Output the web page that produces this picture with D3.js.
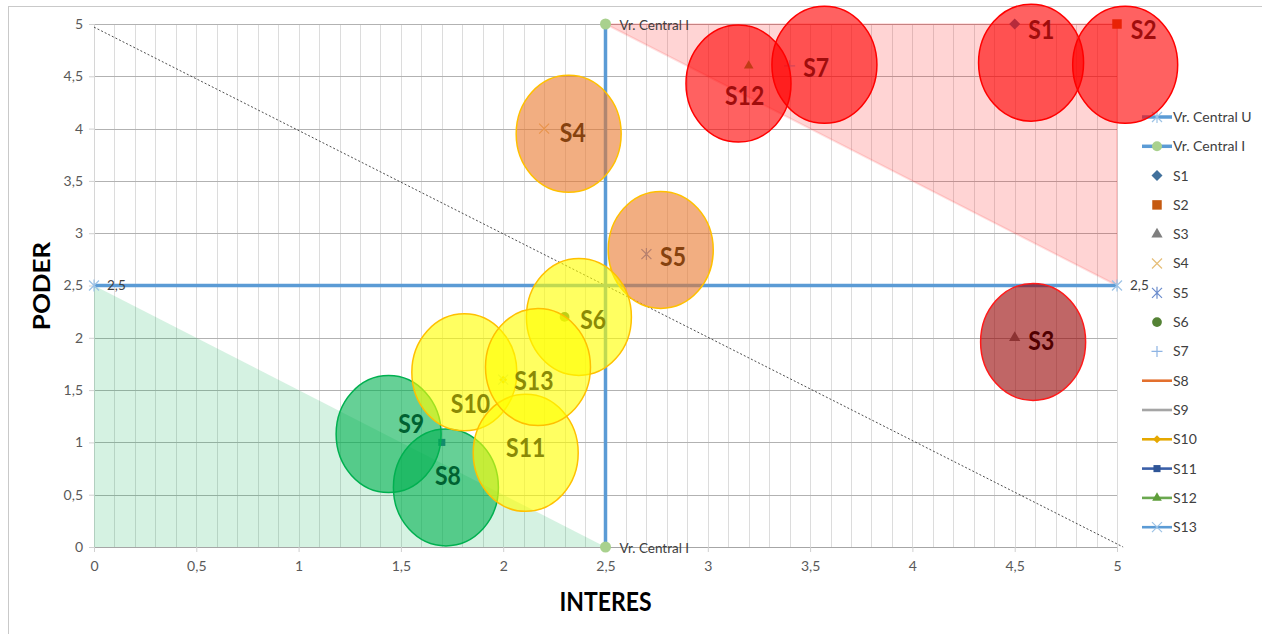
<!DOCTYPE html>
<html>
<head>
<meta charset="utf-8">
<script src="https://cdn.jsdelivr.net/npm/d3@7"></script>
<style>
  html, body { margin: 0; padding: 0; background: #ffffff; }
  svg { display: block; font-family: Lato, "Open Sans", "DejaVu Sans", sans-serif; }
</style>
</head>
<body>
<svg id="chart" width="1262" height="634"></svg>
<script>
// ---- Datos ----
const seriesNames   = ["S1", "S2", "S3", "S4", "S5", "S6", "S7", "S8", "S9", "S10", "S11", "S12", "S13"];
// Punto de cada stakeholder (interés, poder)
const pointInteres  = [4.5, 5.0, 4.5, 2.2, 2.7, 2.3, 3.4, 1.7, 1.4, 2.0, 1.7, 3.2, 2.0];
const pointPoder    = [5.0, 5.0, 2.0, 4.0, 2.8, 2.2, 4.6, 0.6, 1.1, 1.6, 1.0, 4.6, 1.6];
// Centro de cada burbuja
const bubbleInteres = [4.58, 5.04, 4.59, 2.32, 2.77, 2.37, 3.57, 1.72, 1.44, 1.81, 2.11, 3.15, 2.17];
const bubblePoder   = [4.63, 4.61, 1.96, 3.95, 2.84, 2.20, 4.61, 0.57, 1.08, 1.67, 0.90, 4.43, 1.72];
// Posición del rótulo de cada burbuja
const labelInteres  = [4.63, 5.13, 4.63, 2.34, 2.83, 2.44, 3.53, 1.73, 1.55, 1.84, 2.11, 3.18, 2.15];
const labelPoder    = [4.95, 4.95, 1.98, 3.97, 2.78, 2.18, 4.59, 0.69, 1.18, 1.37, 0.95, 4.32, 1.59];
// Cuadrante de cada stakeholder
const bubbleGroup   = ["alto", "alto", "critico", "medio", "medio", "bajo", "alto",
                       "minimo", "minimo", "bajo", "bajo", "alto", "bajo"];

const axisTicks     = [0, 0.5, 1, 1.5, 2, 2.5, 3, 3.5, 4, 4.5, 5];
const minorTicks    = d3.range(0, 51).map(i => i / 10);

// Valores centrales
const centralUInteres = [0, 5];
const centralUPoder   = [2.5, 2.5];
const centralIInteres = [2.5, 2.5];
const centralIPoder   = [5, 0];

// Zonas sombreadas
const zonaAltaInteres = [2.5, 5, 5];
const zonaAltaPoder   = [5, 5, 2.5];
const zonaBajaInteres = [0, 0, 2.5];
const zonaBajaPoder   = [2.5, 0, 0];

// Diagonal punteada
const diagonalInteres = [0, 5.03];
const diagonalPoder   = [4.97, 0];

const legendNames = ["Vr. Central U", "Vr. Central I"].concat(seriesNames);

// ---- Estilos ----
const bubbleStyle = {
  alto:    { fill: "rgba(255,0,0,0.62)",    stroke: "#ff0000", text: "#a00d0d" },
  critico: { fill: "rgba(150,0,0,0.6)",     stroke: "#ff1a1a", text: "#500000" },
  medio:   { fill: "rgba(234,120,45,0.6)",  stroke: "#ffc000", text: "#86420f" },
  bajo:    { fill: "rgba(255,255,0,0.62)",  stroke: "#ffc000", text: "#8a8a06" },
  minimo:  { fill: "rgba(0,176,80,0.6)",    stroke: "#00b050", text: "#006232" }
};
const bubbleRx = 52.5, bubbleRy = 58.5;

const markerStyle = {
  S1:  { shape: "diamond",  color: "#41719c", line: null },
  S2:  { shape: "square",   color: "#c55a11", line: null },
  S3:  { shape: "triangle", color: "#7f7f7f", line: null },
  S4:  { shape: "times",    color: "#e6be78", line: null },
  S5:  { shape: "star",     color: "#6b8ccc", line: null },
  S6:  { shape: "circle",   color: "#548235", line: null },
  S7:  { shape: "plus",     color: "#8eb4e3", line: null },
  S8:  { shape: null,       color: null,      line: "#e3702e" },
  S9:  { shape: null,       color: null,      line: "#a5a5a5" },
  S10: { shape: "diamondS", color: "#e5a800", line: "#e5a800" },
  S11: { shape: "squareS",  color: "#2f5597", line: "#3a5fa8" },
  S12: { shape: "triangleS",color: "#5e9e3a", line: "#6aa84f" },
  S13: { shape: "times",    color: "#9dc3e6", line: "#5b9bd5" }
};

// ---- Lienzo ----
const svg = d3.select("#chart");
const W = 1262, H = 634;
svg.append("rect").attr("width", W).attr("height", H).attr("fill", "#ffffff");
svg.append("rect").attr("x", 8.5).attr("y", 6.5).attr("width", 1300).attr("height", 700)
  .attr("fill", "none").attr("stroke", "#c9c9c9");

const x = d3.scaleLinear().domain([0, 5]).range([94, 1117]);
const y = d3.scaleLinear().domain([0, 5]).range([547, 24]);
const comma = d => String(d).replace(".", ",");

function markerPath(shape) {
  const s = (t, size) => d3.symbol().type(t).size(size)();
  switch (shape) {
    case "diamond":   return "M0,-5.5L5.5,0L0,5.5L-5.5,0Z";
    case "diamondS":  return "M0,-4L4,0L0,4L-4,0Z";
    case "square":    return s(d3.symbolSquare, 90);
    case "squareS":   return s(d3.symbolSquare, 50);
    case "triangle":  return s(d3.symbolTriangle, 55);
    case "triangleS": return s(d3.symbolTriangle, 40);
    case "circle":    return s(d3.symbolCircle, 75);
    case "times":     return "M-5,-5L5,5M-5,5L5,-5";
    case "plus":      return "M-5.5,0H5.5M0,-5.5V5.5";
    case "star":      return "M-5,-5L5,5M-5,5L5,-5M0,-6V6";
  }
  return null;
}
const strokeShapes = new Set(["times", "plus", "star"]);

function drawMarker(g, shape, color, cx, cy) {
  const p = g.append("path").attr("d", markerPath(shape))
    .attr("transform", `translate(${cx},${cy})`);
  if (strokeShapes.has(shape)) p.attr("fill", "none").attr("stroke", color).attr("stroke-width", 1.2);
  else p.attr("fill", color);
}

// ---- Cuadrícula ----
const grid = svg.append("g");
grid.selectAll("line.v").data(minorTicks).join("line")
  .attr("x1", d => Math.round(x(d)) + 0.5).attr("x2", d => Math.round(x(d)) + 0.5)
  .attr("y1", y(5)).attr("y2", y(0))
  .attr("stroke", "#dcdcdc").attr("stroke-width", 1);
grid.selectAll("line.h").data(axisTicks.filter(d => d > 0)).join("line")
  .attr("x1", x(0)).attr("x2", x(5))
  .attr("y1", d => Math.round(y(d)) + 0.5).attr("y2", d => Math.round(y(d)) + 0.5)
  .attr("stroke", "#b2b2b2").attr("stroke-width", 1);

// ---- Ejes ----
const yAxis = svg.append("g").attr("transform", `translate(${x(0)},0)`)
  .call(d3.axisLeft(y).tickValues(axisTicks).tickFormat(comma).tickSize(5).tickPadding(6));
const xAxis = svg.append("g").attr("transform", `translate(0,${y(0)})`)
  .call(d3.axisBottom(x).tickValues(axisTicks).tickFormat(comma).tickSize(5).tickPadding(9));
[yAxis, xAxis].forEach(a => {
  a.selectAll("text").attr("fill", "#595959").style("font-size", "14px").style("font-family", "Lato, sans-serif");
  a.selectAll("line").attr("stroke", "#d0d0d0");
});
yAxis.select(".domain").attr("stroke", "#d6d6d6");
xAxis.select(".domain").attr("stroke", "#a6a6a6");

// ---- Zonas ----
const area = d3.line().x(d => x(d[0])).y(d => y(d[1]));
svg.append("path")
  .attr("d", area(d3.zip(zonaAltaInteres, zonaAltaPoder)) + "Z")
  .attr("fill", "rgba(255,0,0,0.17)").attr("stroke", "rgba(255,0,0,0.12)").attr("stroke-width", 2);
svg.append("path")
  .attr("d", area(d3.zip(zonaBajaInteres, zonaBajaPoder)) + "Z")
  .attr("fill", "rgba(0,176,80,0.165)");

// ---- Diagonal ----
svg.append("path")
  .attr("d", area(d3.zip(diagonalInteres, diagonalPoder)))
  .attr("fill", "none").attr("stroke", "#3a3a3a").attr("stroke-width", 0.9)
  .attr("stroke-dasharray", "2,2");

// ---- Valores centrales ----
const central = svg.append("g");
central.append("path").attr("d", area(d3.zip(centralUInteres, centralUPoder)))
  .attr("stroke", "#5b9bd5").attr("stroke-width", 3.5).attr("fill", "none");
central.append("path").attr("d", area(d3.zip(centralIInteres, centralIPoder)))
  .attr("stroke", "#5b9bd5").attr("stroke-width", 3.5).attr("fill", "none");
d3.zip(centralUInteres, centralUPoder).forEach(([a, b]) => {
  drawMarker(central, "star", "#9dc3e6", x(a), y(b));
  central.append("text").attr("x", x(a) + 13).attr("y", y(b)).attr("dy", "0.35em")
    .attr("fill", "#404040").style("font-size", "13.5px").text(comma(b));
});
d3.zip(centralIInteres, centralIPoder).forEach(([a, b]) => {
  central.append("circle").attr("cx", x(a)).attr("cy", y(b)).attr("r", 5.5).attr("fill", "#a9d18e");
  central.append("text").attr("x", x(a) + 14).attr("y", y(b) + 1).attr("dy", "0.35em")
    .attr("fill", "#404040").style("font-size", "13.5px").text("Vr. Central I");
});

// ---- Puntos de los stakeholders ----
const points = svg.append("g");
seriesNames.forEach((n, i) => {
  const st = markerStyle[n];
  if (st.shape) drawMarker(points, st.shape, st.color, x(pointInteres[i]), y(pointPoder[i]));
});

// ---- Leyenda ----
const legend = svg.append("g");
const legY0 = 117, legStep = 29.3, legX = 1142;
legendNames.forEach((n, i) => {
  const ly = legY0 + i * legStep;
  const g = legend.append("g");
  if (i < 2) {
    g.append("line").attr("x1", legX).attr("x2", legX + 30).attr("y1", ly).attr("y2", ly)
      .attr("stroke", "#5b9bd5").attr("stroke-width", 3.5);
    if (i === 0) drawMarker(g, "star", "#9dc3e6", legX + 15, ly);
    else g.append("circle").attr("cx", legX + 15).attr("cy", ly).attr("r", 5).attr("fill", "#a9d18e");
  } else {
    const st = markerStyle[n];
    if (st.line) g.append("line").attr("x1", legX).attr("x2", legX + 30).attr("y1", ly).attr("y2", ly)
      .attr("stroke", st.line).attr("stroke-width", 2.6);
    if (st.shape) drawMarker(g, st.shape, st.color, legX + 15, ly);
  }
  g.append("text").attr("x", 1173).attr("y", ly).attr("dy", "0.35em")
    .attr("fill", "#404040").style("font-size", "14px").text(n);
});

// ---- Burbujas ----
const bubbles = svg.append("g");
seriesNames.forEach((n, i) => {
  const st = bubbleStyle[bubbleGroup[i]];
  bubbles.append("ellipse")
    .attr("cx", x(bubbleInteres[i])).attr("cy", y(bubblePoder[i]))
    .attr("rx", bubbleRx).attr("ry", bubbleRy)
    .attr("fill", st.fill).attr("stroke", st.stroke).attr("stroke-width", 1.5);
});
seriesNames.forEach((n, i) => {
  const st = bubbleStyle[bubbleGroup[i]];
  bubbles.append("text")
    .attr("transform", `translate(${x(labelInteres[i])},${y(labelPoder[i])}) scale(1,1.18)`)
    .attr("text-anchor", "middle").attr("dy", "0.36em")
    .attr("fill", st.text).style("font-size", "23px").style("font-weight", 700)
    .text(n);
});

// ---- Títulos de ejes ----
svg.append("text")
  .attr("transform", `translate(${(x(0) + x(5)) / 2},601) scale(1,1.18)`)
  .attr("text-anchor", "middle").attr("dy", "0.36em")
  .attr("fill", "#000").style("font-size", "23px").style("font-weight", 700)
  .text("INTERES");
svg.append("text")
  .attr("transform", `translate(42,286) rotate(-90) scale(1.18,1)`)
  .attr("text-anchor", "middle").attr("dy", "0.36em")
  .attr("fill", "#000").style("font-size", "22px").style("font-weight", 700)
  .text("PODER");
</script>
</body>
</html>
